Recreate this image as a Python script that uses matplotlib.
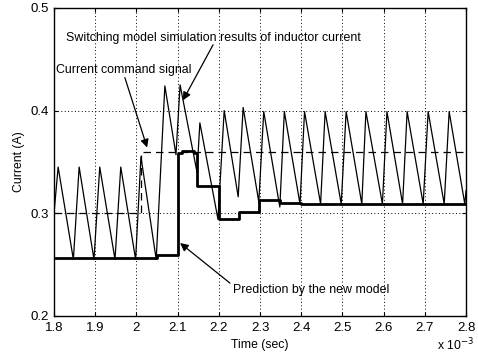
# Inductor current: switching model vs. prediction by the new model

import matplotlib.pyplot as plt

plt.rcParams['font.family'] = ['Liberation Sans', 'DejaVu Sans']

# switching model simulation (time in ms, current in A)
sw_t = [1.800, 1.810, 1.847, 1.861, 1.897, 1.911, 1.948, 1.962, 1.998, 2.011,
        2.048, 2.069, 2.096, 2.106, 2.147, 2.154, 2.198, 2.213, 2.247, 2.259,
        2.297, 2.309, 2.348, 2.359, 2.397, 2.408, 2.447, 2.458, 2.497, 2.509,
        2.547, 2.557, 2.597, 2.608, 2.646, 2.657, 2.696, 2.708, 2.747, 2.759,
        2.797, 2.800]
sw_i = [0.300, 0.345, 0.255, 0.345, 0.255, 0.345, 0.255, 0.345, 0.255, 0.355,
        0.255, 0.424, 0.357, 0.425, 0.340, 0.388, 0.294, 0.400, 0.316, 0.403,
        0.311, 0.399, 0.306, 0.399, 0.309, 0.399, 0.309, 0.399, 0.309, 0.399,
        0.309, 0.399, 0.309, 0.399, 0.309, 0.399, 0.309, 0.399, 0.309, 0.399,
        0.309, 0.322]

# current command signal
cmd_t = [1.800, 2.011, 2.011, 2.800]
cmd_i = [0.300, 0.300, 0.360, 0.360]

# prediction by the new model (staircase)
pred_t = [1.800, 2.050, 2.100, 2.110, 2.140, 2.148, 2.200, 2.250, 2.298, 2.349, 2.400, 2.800]
pred_i = [0.256, 0.259, 0.359, 0.361, 0.359, 0.327, 0.294, 0.301, 0.313, 0.310, 0.309, 0.309]

xticks = [1.8, 1.9, 2.0, 2.1, 2.2, 2.3, 2.4, 2.5, 2.6, 2.7, 2.8]
xlabels = ['1.8', '1.9', '2', '2.1', '2.2', '2.3', '2.4', '2.5', '2.6', '2.7', '2.8']
yticks = [0.2, 0.3, 0.4, 0.5]

fig = plt.figure(figsize=(4.78, 3.57), dpi=100)
ax = fig.add_axes([0.113, 0.115, 0.862, 0.863])

ax.plot(sw_t, sw_i, color='k', lw=0.9)
ax.plot(cmd_t, cmd_i, color='k', lw=0.9, dashes=(6, 4))
ax.plot(pred_t, pred_i, color='k', lw=2.0, drawstyle='steps-post')

ax.set_xlim(1.8, 2.8)
ax.set_ylim(0.2, 0.5)
ax.set_xticks(xticks)
ax.set_xticklabels(xlabels)
ax.set_yticks(yticks)
ax.set_yticklabels(['0.2', '0.3', '0.4', '0.5'])
ax.tick_params(direction='in', top=True, right=True, labelsize=9.5, length=3, pad=4)
ax.grid(True, color='k', linestyle=(0, (1, 2.5)), lw=0.7)
for s in ax.spines.values():
    s.set_linewidth(1.0)

ax.set_xlabel('Time (sec)', fontsize=8.8, labelpad=4)
ax.set_ylabel('Current (A)', fontsize=8.8, labelpad=4)
fig.text(0.915, 0.02, r'x 10$^{-3}$', fontsize=8.8)

arrow = dict(arrowstyle='-|>', color='k', lw=0.9, mutation_scale=12, shrinkA=0, shrinkB=0)

ax.text(1.829, 0.4708, 'Switching model simulation results of inductor current',
        fontsize=8.9, va='center', ha='left')
ax.annotate('', xy=(2.113, 0.410), xytext=(2.186, 0.464), arrowprops=arrow)

ax.text(1.805, 0.439, 'Current command signal', fontsize=8.9, va='center', ha='left')
ax.annotate('', xy=(2.026, 0.364), xytext=(1.972, 0.432), arrowprops=arrow)

ax.text(2.234, 0.2253, 'Prediction by the new model', fontsize=8.9, va='center', ha='left')
ax.annotate('', xy=(2.106, 0.271), xytext=(2.227, 0.232), arrowprops=arrow)

plt.savefig('out.png', dpi=100)
